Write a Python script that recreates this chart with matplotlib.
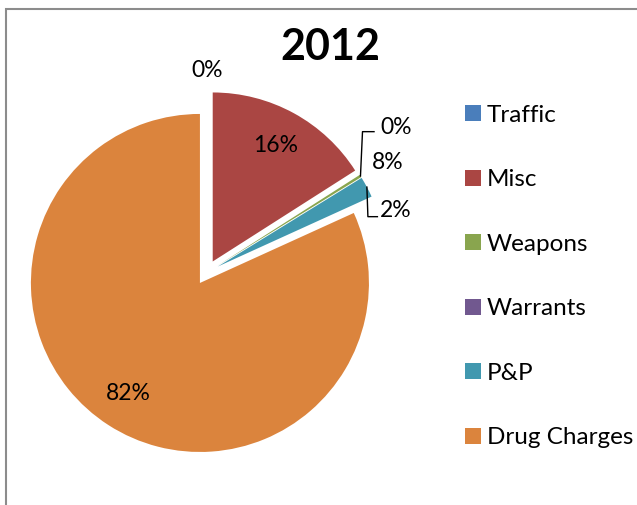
import numpy as np
import matplotlib
matplotlib.use("Agg")
import matplotlib.pyplot as plt
from matplotlib.patches import Rectangle

plt.rcParams['font.family'] = ['Lato', 'DejaVu Sans']

# Data
categories = ["Traffic", "Misc", "Weapons", "Warrants", "P&P", "Drug Charges"]
values = [0, 16, 0.25, 0, 2, 82]
pct_labels = ["0%", "16%", "0%", "8%", "2%", "82%"]
colors = ["#4A7EBB", "#AA4643", "#89A54E", "#71588F", "#4198AF", "#DB843D"]
title = "2012"

fig = plt.figure(figsize=(6.37, 5.05), dpi=100)
ax = fig.add_axes([0, 0, 1, 1])

wedges, _ = ax.pie(values, explode=[0.074] * len(values), startangle=90,
                   counterclock=False, colors=colors, radius=1,
                   wedgeprops=dict(linewidth=0))

ax.set_xlim(-1.223, 2.546)
ax.set_ylim(-1.376, 1.612)
ax.set_aspect('auto')
ax.axis('off')

lbl_size = 16.5

def mid_angle(w):
    return np.deg2rad((w.theta1 + w.theta2) / 2)

# labels inside the big slices
for i in [1, 5]:
    w = wedges[i]
    a = mid_angle(w)
    cx, cy = w.center
    ax.text(cx + 0.78 * np.cos(a), cy + 0.78 * np.sin(a), pct_labels[i],
            ha='center', va='center', fontsize=lbl_size)

# traffic label above the top
w = wedges[0]
cx, cy = w.center
ax.text(cx, cy + 1.12, pct_labels[0], ha='center', va='center', fontsize=lbl_size)

# small slices on the right with leader lines
w = wedges[2]
a = mid_angle(w)
cx, cy = w.center
tip = (cx + np.cos(a), cy + np.sin(a))
ax.plot([tip[0], tip[0] + 0.012, 0.99], [tip[1], 0.833, 0.833], color='black', lw=1)
ax.text(1.025, 0.86, pct_labels[2], ha='left', va='center', fontsize=lbl_size)

ax.text(0.975, 0.65, pct_labels[3], ha='left', va='center', fontsize=lbl_size)

w = wedges[4]
a = mid_angle(w)
cx, cy = w.center
tip = (cx + 1.0 * np.cos(a), cy + 1.0 * np.sin(a))
ax.plot([tip[0], tip[0] + 0.006, 1.01], [tip[1], 0.330, 0.330], color='black', lw=1)
ax.text(1.025, 0.365, pct_labels[4], ha='left', va='center', fontsize=lbl_size)

# title
fig.text(330 / 637, 1 - 47 / 505, title, ha='center', va='center',
         fontsize=31, fontweight='bold')

# legend
leg = ax.legend(wedges, categories, loc='upper left',
                bbox_to_anchor=(455 / 637, 1 - 95 / 505),
                bbox_transform=fig.transFigure, frameon=False,
                fontsize=17.5, handlelength=0.66, handleheight=0.66,
                handletextpad=0.25, labelspacing=1.79, borderaxespad=0)

# chart frame
fig.patches.append(Rectangle((6 / 637, -0.1), 1.2, 0.982 + 0.1, fill=False,
                             edgecolor='#8c8c8c', lw=1.5,
                             transform=fig.transFigure, figure=fig))

fig.savefig("out.png", dpi=100)
